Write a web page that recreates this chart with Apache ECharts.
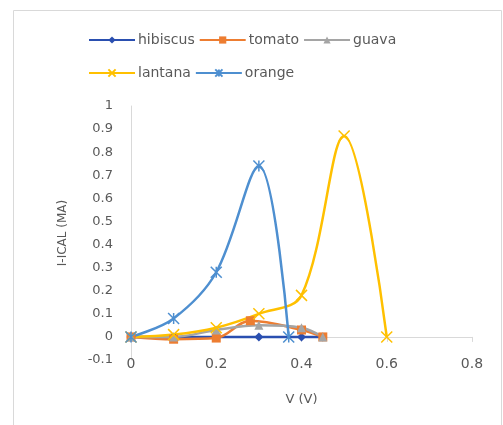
<!DOCTYPE html>
<html>
<head>
<meta charset="utf-8">
<script src="https://cdn.jsdelivr.net/npm/echarts@6/dist/echarts.min.js"></script>
<style>html,body{margin:0;padding:0;background:#fff}#c{width:503px;height:425px}</style>
</head>
<body>
<div id="c"></div>
<script>
var hibiscus = [[0,0],[0.1,0],[0.2,0],[0.3,0],[0.4,0],[0.45,0]];
var tomato = [[0,0],[0.1,-0.01],[0.2,-0.005],[0.28,0.07],[0.4,0.03],[0.45,0]];
var guava = [[0,0],[0.1,0],[0.2,0.03],[0.3,0.05],[0.4,0.04],[0.45,0]];
var lantana = [[0,0],[0.1,0.01],[0.2,0.04],[0.3,0.1],[0.4,0.18],[0.5,0.87],[0.6,0]];
var orange = [[0,0],[0.1,0.08],[0.2,0.28],[0.3,0.74],[0.37,0]];
var xTicks = [0,0.2,0.4,0.6,0.8];
var yTicks = [-0.1,0,0.1,0.2,0.3,0.4,0.5,0.6,0.7,0.8,0.9,1];

var FONT = 'DejaVu Sans';
var xSym = 'path://M0,0L10,10M10,0L0,10';
var starSym = 'path://M0,0L10,10M10,0L0,10M5,0L5,10';
function mk(name, data, color, symbol, size, strokeOnly){
  return {
    name: name, type: 'line', data: data, smooth: 0.35,
    symbol: symbol, symbolSize: size,
    lineStyle: {color: color, width: 2.5},
    itemStyle: strokeOnly ? {color: color, borderColor: color, borderWidth: 1.5} : {color: color},
    z: 2
  };
}
var chart = echarts.init(document.getElementById('c'));
var legendCommon = {
  itemWidth: 46, itemHeight: 9, itemGap: 4,
  textStyle: {fontFamily: FONT, fontSize: 14, color: '#595959', padding: [0,0,0,-2]}
};
chart.setOption({
  animation: false,
  graphic: [{type: 'rect', shape: {x: 13.5, y: 10.5, width: 488, height: 430},
    style: {fill: 'none', stroke: '#d9d9d9', lineWidth: 1}, silent: true}],
  legend: [
    Object.assign({left: 83, top: 28, data: ['hibiscus','tomato','guava']}, legendCommon),
    Object.assign({left: 83, top: 61, data: ['lantana','orange']}, legendCommon)
  ],
  grid: {left: 131, right: 31, top: 106, bottom: 65, outerBoundsMode: 'none', containLabel: false},
  xAxis: {
    type: 'value', min: 0, max: 0.8, interval: 0.2,
    name: 'V (V)', nameLocation: 'middle', nameGap: 33, nameMoveOverlap: false,
    nameTextStyle: {fontFamily: FONT, fontSize: 13, color: '#595959'},
    axisLine: {show: true, onZero: true, lineStyle: {color: '#d9d9d9', width: 1}},
    axisTick: {show: true, length: 5, lineStyle: {color: '#d9d9d9'}},
    axisLabel: {fontFamily: FONT, fontSize: 14, color: '#595959', margin: -3,
      formatter: function(v){ var r = Math.round(v*10)/10; return xTicks.indexOf(r) >= 0 ? String(r) : ''; }},
    splitLine: {show: false}
  },
  yAxis: {
    type: 'value', min: -0.1, max: 1, interval: 0.1,
    name: 'I-ICAL (MA)', nameLocation: 'middle', nameGap: 62, nameRotate: 90, nameMoveOverlap: false,
    nameTextStyle: {fontFamily: FONT, fontSize: 12, color: '#595959'},
    axisLine: {show: true, onZero: false, lineStyle: {color: '#d9d9d9', width: 1}},
    axisTick: {show: false},
    axisLabel: {fontFamily: FONT, fontSize: 13, color: '#595959', margin: 18,
      formatter: function(v){ var r = Math.round(v*10)/10; return yTicks.indexOf(r) >= 0 ? String(r) : ''; }},
    splitLine: {show: false}
  },
  series: [
    mk('hibiscus', hibiscus, '#2a4fb0', 'diamond', 9, false),
    mk('tomato', tomato, '#ed7d31', 'rect', 9, false),
    mk('guava', guava, '#a5a5a5', 'triangle', 9, false),
    mk('lantana', lantana, '#ffc000', xSym, 11, true),
    mk('orange', orange, '#4e8fd0', starSym, 11, true)
  ]
});
</script>
</body>
</html>
